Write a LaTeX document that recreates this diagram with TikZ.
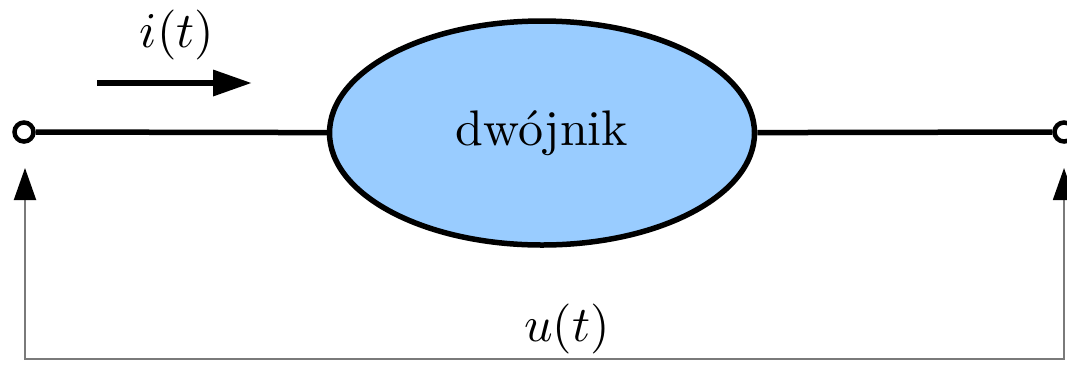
\documentclass[tikz,border=0pt]{standalone}
\usetikzlibrary{arrows.meta,positioning,shapes.geometric}
\definecolor{Sky}{HTML}{99CCFF}
\definecolor{Wire}{HTML}{7A7A7A}

\begin{document}
\begin{tikzpicture}[x=20pt,y=20pt,
    terminal/.style={circle,draw,line width=0.9pt,fill=white,minimum size=3.8pt,inner sep=0pt},
    lead/.style={line width=1.1pt},
    voltage/.style={Wire,line width=0.4pt,{Triangle[black,length=6.4pt,width=4.4pt]}-{Triangle[black,length=6.4pt,width=4.4pt]}}]
  \useasboundingbox (0,0) rectangle (10.67,3.64);
  \node[ellipse,draw,line width=1.1pt,fill=Sky,minimum width=85pt,minimum height=44.8pt,inner sep=0pt] (dw) at (5.42,2.31) {dwójnik};
  \node[terminal] (inL) at (0.24,2.32) {};
  \node[terminal] (inR) at (10.64,2.32) {};
  \draw[lead] (inL) -- (dw);
  \draw[lead] (dw) -- (inR);
  % prad
  \coordinate (iA) at (0.97,2.81);
  \coordinate (iB) at (2.52,2.81);
  \draw[line width=1.3pt,-{Triangle[length=7.8pt,width=5pt]}] (iA) -- (iB);
  \node (il) at (1.77,3.29) {$i(t)$};
  % napiecie
  \coordinate (uL) at (0.25,1.96);
  \coordinate (uR) at (10.64,1.96);
  \coordinate (uB) at (5.42,0.05);
  \draw[voltage] (uL) |- (uB) -| (uR);
  \node (ul) at (5.67,0.35) {$u(t)$};
\end{tikzpicture}
\end{document}
